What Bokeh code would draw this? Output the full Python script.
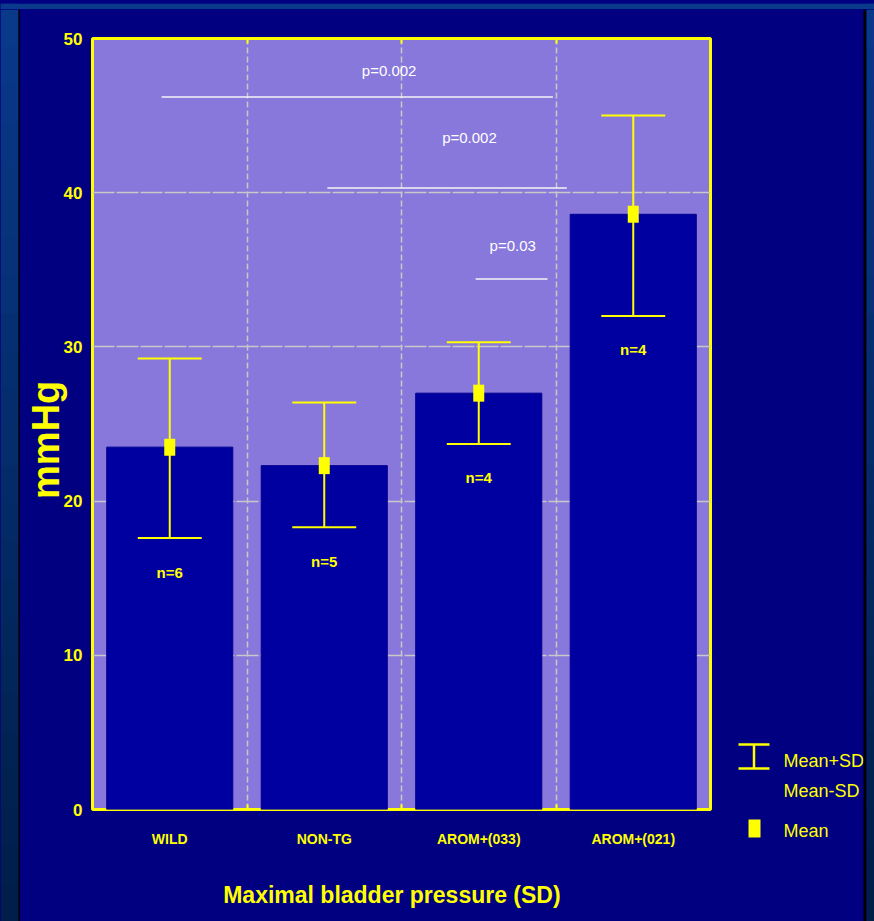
from bokeh.plotting import figure
from bokeh.layouts import row, column
from bokeh.models import Range1d, FixedTicker, ColumnDataSource, LinearAxis
from bokeh.core.properties import value
from bokeh.embed import file_html
from bokeh.resources import INLINE

# ---------------- data ----------------
categories = ["WILD", "NON-TG", "AROM+(033)", "AROM+(021)"]
means = [23.5, 22.3, 27.0, 38.6]
upper_sd = [29.25, 26.4, 30.3, 45.0]
lower_sd = [17.6, 18.3, 23.7, 32.0]
n_counts = [6, 5, 4, 4]

# significance brackets (x in category units, 0..4)
p_labels = ["p=0.002", "p=0.002", "p=0.03"]
p_line_x0 = [0.447, 1.52, 2.48]
p_line_x1 = [2.98, 3.07, 2.945]
p_line_y = [46.2, 40.3, 34.4]
p_text_x = [1.92, 2.44, 2.72]
p_text_y = [47.9, 43.6, 36.6]

y_ticks = [0, 10, 20, 30, 40, 50]
legend_labels = ["Mean+SD", "Mean-SD", "Mean"]

# ---------------- style ----------------
NAVY = "#000080"
PLOT_BG = "#8878DC"
BAR = "#0000A0"
YEL = "#FFFF00"
GRID = "#C8C8C8"
FONT = "Liberation Sans"
TOP_BLUE = (0x0A, 0x3A, 0x8C)
BOT_BLUE = (0x00, 0x1E, 0x48)
NBSP = "\u00a0"

TOTAL_W, TOTAL_H = 874, 921
TOP_H = 9
BODY_H = TOTAL_H - TOP_H
LEFT_W = 20
MAIN_W = 700
RIGHT_W = TOTAL_W - LEFT_W - MAIN_W


def blue_at(t):
    return "#%02X%02X%02X" % tuple(int(a + t * (b - a)) for a, b in zip(TOP_BLUE, BOT_BLUE))


def deco_fig(w, h, xr, yr):
    f = figure(width=w, height=h, x_range=xr, y_range=yr, output_backend="svg",
               toolbar_location=None, x_axis_location=None, y_axis_location=None,
               min_border=0, min_border_left=0, min_border_right=0,
               min_border_top=0, min_border_bottom=0, frame_align=False)
    f.grid.visible = False
    f.outline_line_color = None
    f.background_fill_color = NAVY
    f.border_fill_color = NAVY
    f.styles = {"background-color": NAVY}
    return f


def gradient_strip(f, x0, x1, y0, y1, n=24):
    step = (y1 - y0) / n
    tops = [y0 + i * step for i in range(n)]
    bots = [y0 + (i + 1) * step + 0.5 for i in range(n)]
    cols = [blue_at((y0 + (i + 0.5) * step) / TOTAL_H) for i in range(n)]
    f.quad(left=x0, right=x1, top=tops, bottom=bots, fill_color=cols, line_color=None)


# ---------------- top band (page y 0..9) ----------------
top = deco_fig(TOTAL_W, TOP_H, Range1d(0, TOTAL_W), Range1d(TOP_H, 0))
top.quad(left=0, right=TOTAL_W, top=0, bottom=7, fill_color=blue_at(0), line_color=None)
top.quad(left=0, right=18, top=0, bottom=TOP_H, fill_color=blue_at(0), line_color=None)
top.quad(left=866, right=TOTAL_W, top=0, bottom=TOP_H, fill_color=blue_at(0), line_color=None)
top.quad(left=18, right=866, top=7, bottom=TOP_H, fill_color="#000000", line_color=None)

# ---------------- left band (page x 0..20) ----------------
left = deco_fig(LEFT_W, BODY_H, Range1d(0, LEFT_W), Range1d(TOTAL_H, TOP_H))
gradient_strip(left, 0, 18, TOP_H, TOTAL_H)
left.quad(left=18, right=20, top=TOP_H, bottom=TOTAL_H, fill_color="#000000", line_color=None)

# ---------------- main chart ----------------
centers = [i + 0.5 for i in range(len(categories))]

FRAME_T = 38 - TOP_H
FRAME_H = 809 - 38
FRAME_L = 92 - LEFT_W
FRAME_W = 710 - 92

p = figure(width=MAIN_W, height=BODY_H, x_range=Range1d(0, 4), y_range=Range1d(0, 50),
           output_backend="svg", toolbar_location=None, frame_align=False,
           min_border_left=FRAME_L, min_border_right=MAIN_W - FRAME_L - FRAME_W,
           min_border_top=FRAME_T, min_border_bottom=BODY_H - FRAME_T - FRAME_H)
p.border_fill_color = NAVY
p.background_fill_color = PLOT_BG
p.outline_line_color = YEL
p.outline_line_width = 3
p.styles = {"background-color": NAVY}

# vertical grid (between bars)
p.xgrid.ticker = FixedTicker(ticks=[1, 2, 3])
p.xgrid.grid_line_color = GRID
p.xgrid.grid_line_dash = "6 3"
p.xgrid.grid_line_width = 1.5
p.ygrid.visible = False
# horizontal grid drawn first so the bars cover it
p.hspan(y=[t for t in y_ticks if 0 < t < 50], line_color=GRID, line_dash="22 2", line_width=1.5)

# x axis
xa = p.xaxis[0]
xa.ticker = FixedTicker(ticks=centers, minor_ticks=[1, 2, 3])
xa.major_label_overrides = {c: lab for c, lab in zip(centers, categories)}
xa.axis_line_color = None
xa.major_tick_line_color = None
xa.major_tick_out = 0
xa.major_tick_in = 0
xa.minor_tick_line_color = YEL
xa.minor_tick_line_width = 2
xa.minor_tick_in = 5
xa.minor_tick_out = 0
xa.major_label_standoff = 21
xa.major_label_text_font = FONT
xa.major_label_text_font_style = "bold"
xa.major_label_text_font_size = "14px"
xa.major_label_text_color = YEL
xa.axis_label = "Maximal bladder pressure (SD)" + NBSP * 3
xa.axis_label_text_font = FONT
xa.axis_label_text_font_style = "bold"
xa.axis_label_text_font_size = "23px"
xa.axis_label_text_color = YEL
xa.axis_label_standoff = 32

# top axis: only the small yellow ticks above the category boundaries
xt = LinearAxis(ticker=FixedTicker(ticks=[], minor_ticks=[1, 2, 3]),
                axis_line_color=None, major_tick_line_color=None,
                major_label_text_font_size="0px", major_label_standoff=0,
                minor_tick_line_color=YEL, minor_tick_line_width=2,
                minor_tick_in=5, minor_tick_out=0)
p.add_layout(xt, "above")

# y axis
ya = p.yaxis[0]
ya.ticker = FixedTicker(ticks=y_ticks)
ya.axis_line_color = None
ya.major_tick_line_color = None
ya.major_tick_out = 0
ya.major_tick_in = 0
ya.minor_tick_line_color = None
ya.major_label_standoff = 10
ya.major_label_text_font = FONT
ya.major_label_text_font_style = "bold"
ya.major_label_text_font_size = "17px"
ya.major_label_text_color = YEL
ya.axis_label = "mmHg" + NBSP * 3
ya.axis_label_text_font = FONT
ya.axis_label_text_font_style = "bold"
ya.axis_label_text_font_size = "38px"
ya.axis_label_text_color = YEL
ya.axis_label_standoff = -6

# bars
src = ColumnDataSource(dict(x=centers, mean=means, up=upper_sd, lo=lower_sd,
                            cap_l=[c - 0.207 for c in centers],
                            cap_r=[c + 0.207 for c in centers],
                            n_text=["n=%d" % n for n in n_counts],
                            n_y=[l - 2.2 for l in lower_sd]))
p.vbar(x="x", top="mean", bottom=0, width=0.816, source=src,
       fill_color=BAR, line_color="#000090", line_width=1)

# error bars
p.segment(x0="x", y0="lo", x1="x", y1="up", source=src, line_color=YEL, line_width=2)
p.segment(x0="cap_l", y0="up", x1="cap_r", y1="up", source=src, line_color=YEL, line_width=2)
p.segment(x0="cap_l", y0="lo", x1="cap_r", y1="lo", source=src, line_color=YEL, line_width=2)
p.rect(x="x", y="mean", width=11, height=17, width_units="screen", height_units="screen",
       source=src, fill_color=YEL, line_color=None)

# n labels
p.text(x="x", y="n_y", text="n_text", source=src, text_align="center", text_baseline="middle",
       text_color=YEL, text_font=value(FONT), text_font_style="bold", text_font_size="15px")

# p-value brackets
p.segment(x0=p_line_x0, y0=p_line_y, x1=p_line_x1, y1=p_line_y, line_color="#F4F4F4", line_width=1.5)
p.text(x=p_text_x, y=p_text_y, text=p_labels, text_align="center", text_baseline="middle",
       text_color="white", text_font=value(FONT), text_font_size="15px")

# ---------------- right panel: legend + frame edge ----------------
rx0 = LEFT_W + MAIN_W
right = deco_fig(RIGHT_W, BODY_H, Range1d(rx0, TOTAL_W), Range1d(TOTAL_H, TOP_H))
# error-bar symbol
right.segment(x0=[738, 753.5, 738], y0=[744, 744, 768], x1=[769, 753.5, 769], y1=[744, 768, 768],
              line_color=YEL, line_width=2.5)
# mean square
right.quad(left=748, right=760, top=819, bottom=837, fill_color=YEL, line_color=None)
right.text(x=[783, 783, 783], y=[760, 790, 830], text=legend_labels, text_baseline="middle",
           text_color=YEL, text_font=value(FONT), text_font_size="18px")
# frame edge
right.quad(left=863, right=866, top=TOP_H, bottom=TOTAL_H, fill_color="#000000", line_color=None)
gradient_strip(right, 866, TOTAL_W, TOP_H, TOTAL_H)

body = row(left, p, right, spacing=0)
body.styles = {"background-color": NAVY}
layout = column(top, body, spacing=0)
layout.styles = {"background-color": NAVY}

open("out.html", "w").write(file_html(layout, INLINE))
